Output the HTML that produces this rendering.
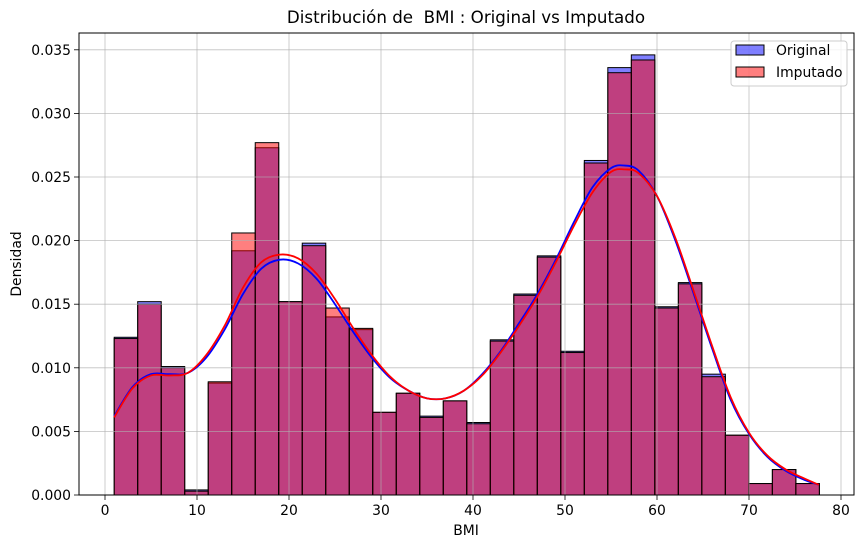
<!DOCTYPE html>
<html><head><meta charset="utf-8">
<style>
body{margin:0;background:#fff;}
svg{display:block;font-family:"DejaVu Sans","Liberation Sans",sans-serif;}
</style></head>
<body>
<svg id="chart" width="863" height="548" xmlns="http://www.w3.org/2000/svg">
<rect x="0" y="0" width="863" height="548" fill="#fff"/>
<g id="bars"></g>
<g id="grid"></g>
<g id="kde"></g>
<g id="axes"></g>
<text x="466" y="23" font-size="16.7" text-anchor="middle" style="white-space:pre">Distribución de  BMI : Original vs Imputado</text>
<text x="466" y="535" font-size="13.9" text-anchor="middle">BMI</text>
<text transform="translate(21,264) rotate(-90)" font-size="13.9" text-anchor="middle">Densidad</text>
<g>
<rect x="731" y="41" width="116" height="45" rx="3" fill="#fff" fill-opacity="0.8" stroke="#ccc"/>
<g>
<rect x="736" y="45" width="28" height="10" fill="rgba(0,0,255,0.5)" stroke="#000"/>
<text x="776" y="55" font-size="13.9">Original</text>
</g>
<g>
<rect x="736" y="67" width="28" height="10" fill="rgba(255,0,0,0.5)" stroke="#000"/>
<text x="776" y="77" font-size="13.9">Imputado</text>
</g>
</g>
</svg>
<script>
const binStart = 1.0;
const binWidth = 2.555;
const originalDensity = [12.4,15.2,10.1,0.4,8.8,19.2,27.3,15.2,19.8,14.0,13.0,6.5,8.0,6.2,7.4,5.7,12.2,15.8,18.8,11.3,26.3,33.6,34.6,14.8,16.7,9.5,4.7,0.9,2.0,0.9];
const imputedDensity = [12.3,15.0,10.0,0.3,8.9,20.6,27.7,15.2,19.6,14.7,13.1,6.5,8.0,6.1,7.4,5.6,12.1,15.7,18.7,11.2,26.1,33.2,34.2,14.7,16.6,9.3,4.7,0.9,2.0,0.9];
const kdeX = [1,3,5,7,9,11,13,15,17,19,21,23,25,27,29,31,33,35,37,39,41,43,45,47,49,51,53,55,56.5,58,60,62,64,66,68,70,72,74,76,77.6];
const kdeOriginal = [6.2,8.5,9.5,9.5,9.6,10.8,13.0,15.8,17.8,18.5,18.2,17.0,15.0,12.8,10.8,9.2,8.2,7.6,7.6,8.2,9.5,11.3,13.5,15.8,18.5,21.5,24.2,25.7,25.9,25.5,23.5,20.0,15.8,11.5,7.5,4.8,3.0,1.9,1.2,0.8];
const kdeImputed = [6.1,8.4,9.4,9.4,9.6,11.0,13.3,16.3,18.3,18.9,18.6,17.4,15.4,13.1,11.0,9.3,8.2,7.6,7.6,8.2,9.4,11.2,13.3,15.6,18.3,21.2,23.8,25.4,25.6,25.3,23.5,20.2,16.0,11.7,7.7,4.9,3.1,2.0,1.3,0.8];
const xTicks = [0,10,20,30,40,50,60,70,80];
const yTicks = [0,5,10,15,20,25,30,35];
const yTickLabels = ["0.000","0.005","0.010","0.015","0.020","0.025","0.030","0.035"];

const L=79,R=854,T=33,B=495;
const xs=v=>105+v*9.2;
const ys=v=>495-v*(63.6/5);
const NS="http://www.w3.org/2000/svg";
function mk(tag,parent,attrs){const e=document.createElementNS(NS,tag);for(const k in attrs)e.setAttribute(k,attrs[k]);parent.appendChild(e);return e;}
const grid=document.getElementById('grid'),bars=document.getElementById('bars'),kde=document.getElementById('kde'),axes=document.getElementById('axes');
xTicks.forEach(t=>{
  const x=xs(t);
  const g=mk('line',grid,{x1:x,x2:x,y1:T,y2:B,stroke:'#b0b0b0','stroke-width':0.8,'stroke-opacity':0.8});
  
  
  mk('line',axes,{x1:x,x2:x,y1:B,y2:B+5,stroke:'#000','stroke-width':0.8});
  const tx=mk('text',axes,{x:x,y:B+20,'font-size':13.9,'text-anchor':'middle'});
  tx.textContent=t;
  
  
});
yTicks.forEach((t,i)=>{
  const y=ys(t);
  const g=mk('line',grid,{x1:L,x2:R,y1:y,y2:y,stroke:'#b0b0b0','stroke-width':0.8,'stroke-opacity':0.8});
  
  
  mk('line',axes,{x1:L-5,x2:L,y1:y,y2:y,stroke:'#000','stroke-width':0.8});
  const tx=mk('text',axes,{x:L-8,y:y+5,'font-size':13.9,'text-anchor':'end'});
  tx.textContent=yTickLabels[i];
  
  
});
function drawBars(data,fill,name){
  data.forEach((v,i)=>{
    const x0=xs(binStart+i*binWidth),x1=xs(binStart+(i+1)*binWidth);
    const r=mk('rect',bars,{x:x0,y:ys(v),width:x1-x0,height:B-ys(v),fill:fill,stroke:'#000','stroke-width':1});
    
    
  });
}
drawBars(originalDensity,'rgba(0,0,255,0.5)','bar-original');
drawBars(imputedDensity,'rgba(255,0,0,0.5)','bar-imputado');
function drawLine(vals,color,name){
  const pts=kdeX.map((x,i)=>[xs(x),ys(vals[i])]);
  let d='M'+pts[0][0]+','+pts[0][1];
  for(let i=0;i<pts.length-1;i++){
    const p0=pts[Math.max(0,i-1)],p1=pts[i],p2=pts[i+1],p3=pts[Math.min(pts.length-1,i+2)];
    const c1=[p1[0]+(p2[0]-p0[0])/6,p1[1]+(p2[1]-p0[1])/6],c2=[p2[0]-(p3[0]-p1[0])/6,p2[1]-(p3[1]-p1[1])/6];
    d+=' C'+c1+' '+c2+' '+p2;
  }
  const p=mk('path',kde,{d:d,fill:'none',stroke:color,'stroke-width':1.8});
  
  
}
drawLine(kdeOriginal,'#0000ff','kde-original');
drawLine(kdeImputed,'#ff0000','kde-imputado');
const frame=mk('rect',axes,{x:L,y:T,width:R-L,height:B-T,fill:'none',stroke:'#000','stroke-width':1});


</script>
</body></html>
